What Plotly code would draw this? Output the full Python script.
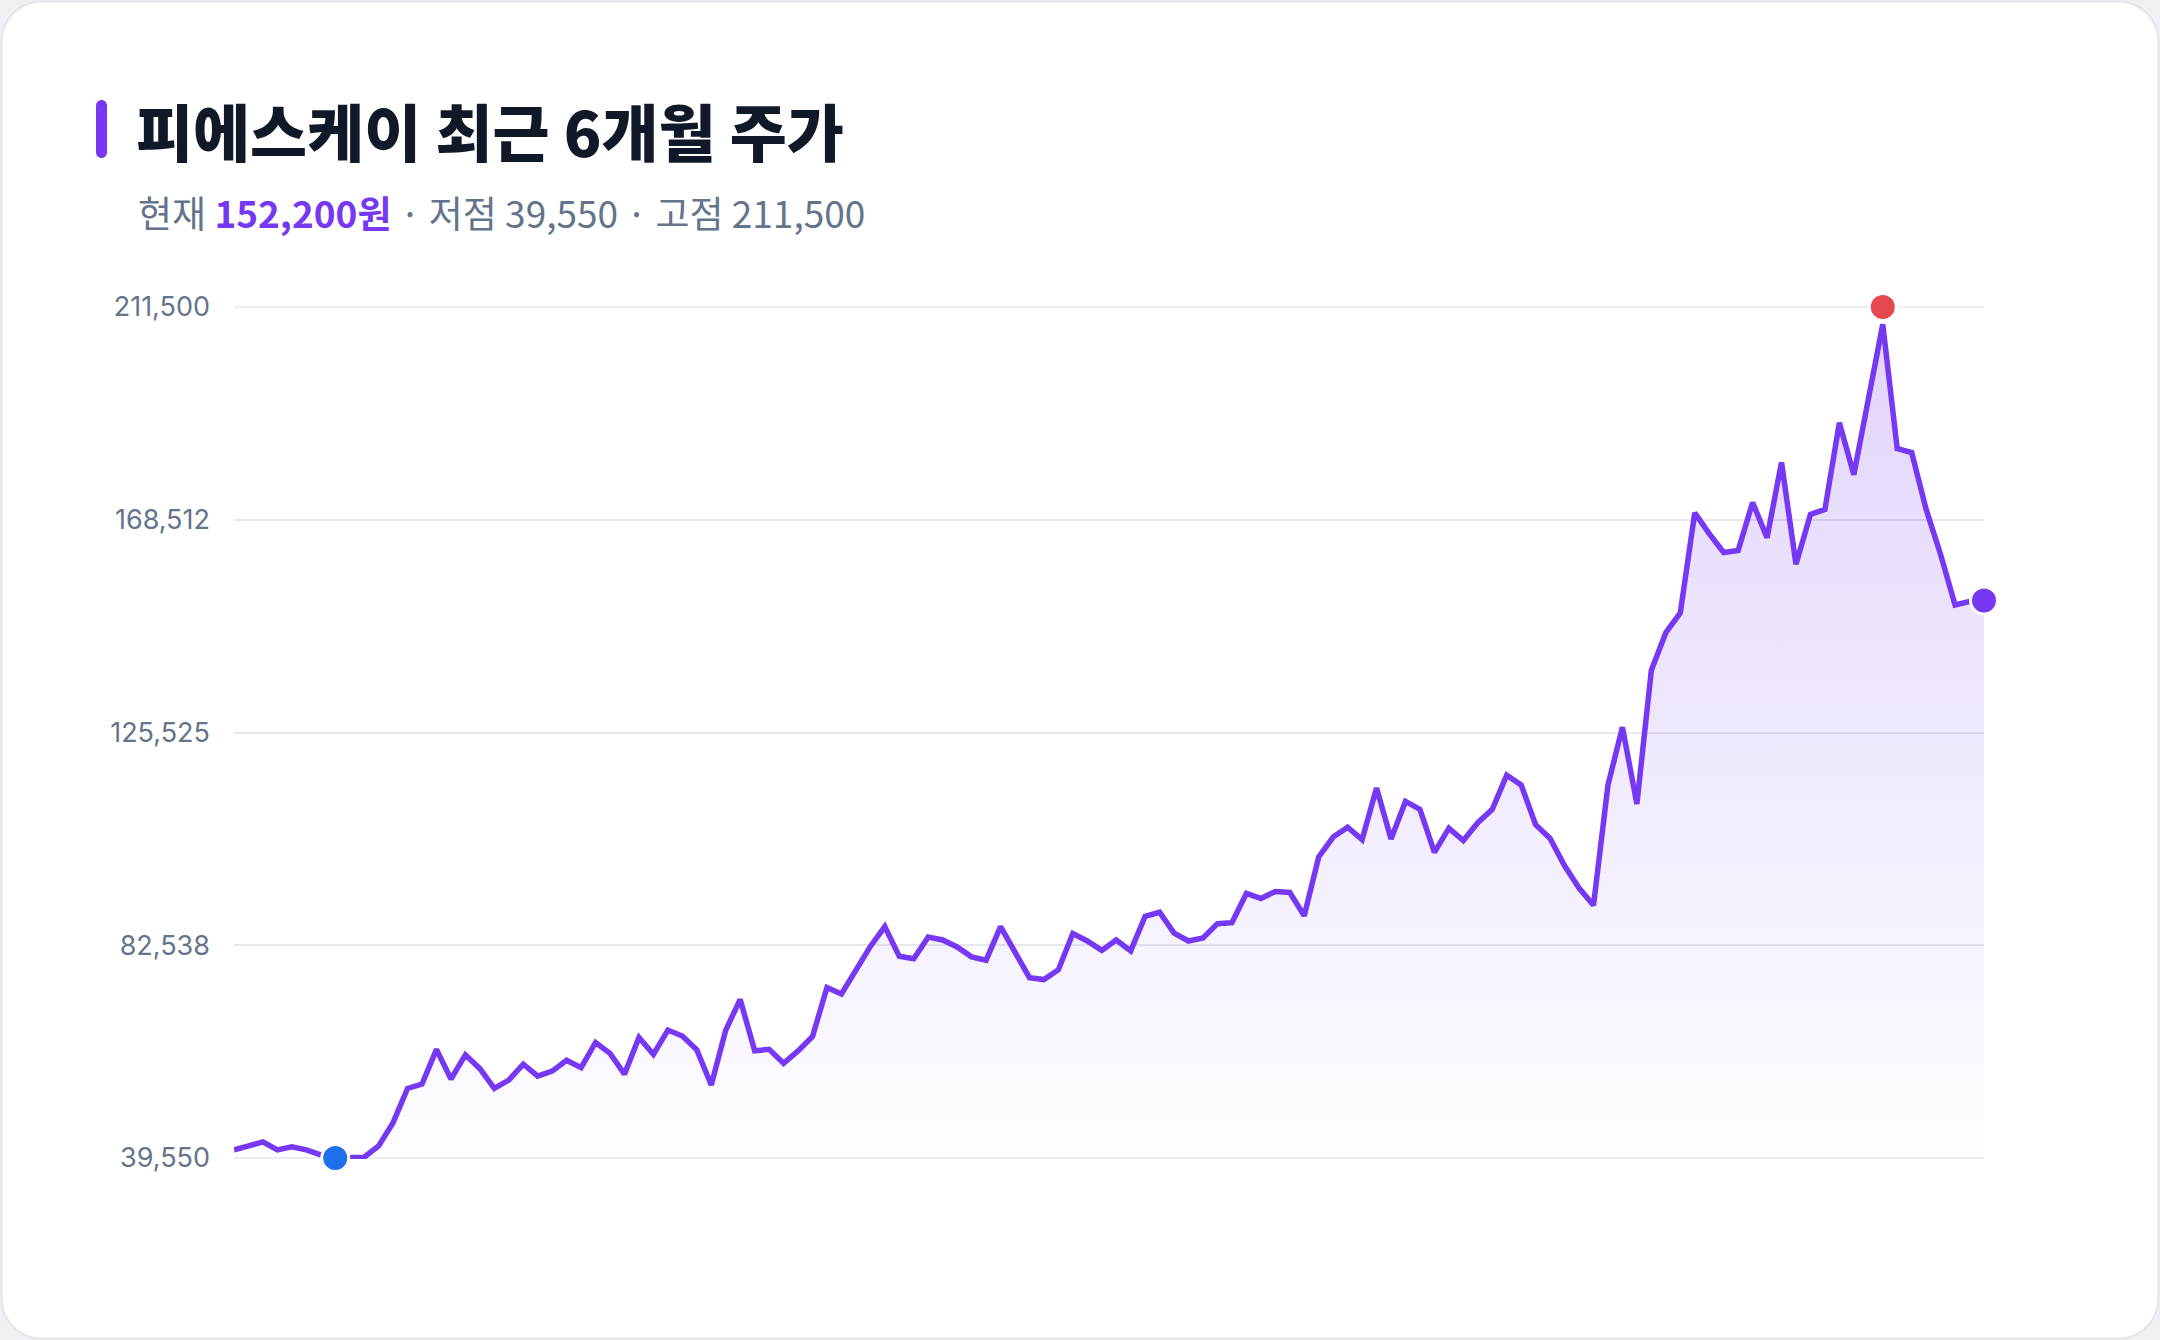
import plotly.graph_objects as go

# ---------------- data ----------------
title_text = "피에스케이 최근 6개월 주가"
day_index = list(range(122))
prices = [
    41200, 41900, 42800, 41200, 41800, 41200, 40200, 39550, 39700, 39700,
    42000, 46700, 53600, 54500, 61500, 55500, 60400, 57600, 53600, 55300,
    58500, 56100, 57100, 59300, 57800, 62900, 60700, 56500, 63900, 60500,
    65400, 64200, 61400, 54300, 65400, 71600, 61200, 61500, 58700, 61200,
    64100, 74000, 72700, 77300, 82300, 86300, 80300, 79800, 84200, 83600,
    82200, 80200, 79500, 86300, 81300, 76000, 75600, 77600, 84900, 83400,
    81500, 83600, 81400, 88400, 89200, 85000, 83400, 84000, 86900, 87100,
    93000, 92000, 93400, 93200, 88500, 100400, 104400, 106400, 103900, 114300,
    104000, 111600, 110000, 101300, 106200, 103700, 107300, 110000, 116900, 114900,
    106900, 104100, 98600, 94100, 90600, 114900, 126600, 111100, 138100, 145700,
    149700, 169900, 165700, 161900, 162300, 172000, 164900, 180100, 159500, 169600,
    170600, 188100, 177600, 193000, 208000, 182900, 182100, 170600, 161500, 151300,
    152000, 152200,
]
current_price = 152200
low_price = 39550
low_day = 7
high_price = 211500
high_day = 114
y_tickvals = [39550, 82537.5, 125525, 168512.5, 211500]
y_ticktext = ["39,550", "82,538", "125,525", "168,512", "211,500"]

# ---------------- style / layout ----------------
W, H = 2160, 1340
L, R, T, B = 234, 176, 306, 181
PW, PH = W - L - R, H - T - B
PURPLE = "#7638f2"
BLUE = "#1f6fec"
RED = "#e5484d"
TITLE_COLOR = "#111827"
MUTED = "#64748b"
GRID = "#e6e7eb"
PAD = 200  # tiny range padding so the edge gridlines stay visible


def px_x(px):
    return (px - L) / PW


def px_y(py):
    return (H - B - py) / PH


def rounded_rect(x0, y0, x1, y1, r):
    k = 0.5523 * r
    def P(x, y):
        return f"{px_x(x):.5f},{px_y(y):.5f}"
    pts = [
        f"M {P(x0 + r, y0)}",
        f"L {P(x1 - r, y0)}",
        f"C {P(x1 - r + k, y0)} {P(x1, y0 + r - k)} {P(x1, y0 + r)}",
        f"L {P(x1, y1 - r)}",
        f"C {P(x1, y1 - r + k)} {P(x1 - r + k, y1)} {P(x1 - r, y1)}",
        f"L {P(x0 + r, y1)}",
        f"C {P(x0 + r - k, y1)} {P(x0, y1 - r + k)} {P(x0, y1 - r)}",
        f"L {P(x0, y0 + r)}",
        f"C {P(x0, y0 + r - k)} {P(x0 + r - k, y0)} {P(x0 + r, y0)}",
        "Z",
    ]
    return " ".join(pts)


fig = go.Figure()

fig.add_trace(go.Scatter(
    x=day_index, y=prices, mode="lines",
    line=dict(color=PURPLE, width=5.5),
    fill="tozeroy",
    fillgradient=dict(
        type="vertical",
        colorscale=[[0, "rgba(124,58,237,0.01)"], [1, "rgba(124,58,237,0.22)"]],
        start=low_price, stop=high_price,
    ),
    hoverinfo="skip", showlegend=False,
))

for xv, yv, col in [(low_day, low_price, BLUE), (high_day, high_price, RED),
                    (day_index[-1], current_price, PURPLE)]:
    fig.add_trace(go.Scatter(
        x=[xv], y=[yv], mode="markers",
        marker=dict(size=27, color=col, line=dict(color="white", width=3)),
        cliponaxis=False, hoverinfo="skip", showlegend=False,
    ))

shapes = [
    dict(type="path", xref="paper", yref="paper", layer="below",
         path=rounded_rect(1.5, 1.5, W - 1.5, H - 1.5, 40),
         fillcolor="white", line=dict(color="#e4e5ea", width=2)),
    dict(type="path", xref="paper", yref="paper", layer="above",
         path=rounded_rect(96, 100, 107, 158, 5.5),
         fillcolor=PURPLE, line=dict(width=0)),
]
# gridlines at the two range ends (plotly skips grid lines on the plot edge)
for gv in (y_tickvals[0], y_tickvals[-1]):
    shapes.append(dict(type="line", xref="paper", yref="y", layer="below",
                       x0=0, x1=1, y0=gv, y1=gv, line=dict(color=GRID, width=1.5)))

subtitle = (f"<span style='color:{MUTED}'>현재 </span>"
            f"<b><span style='color:{PURPLE}'>{current_price:,}원</span></b>"
            f"<span style='color:{MUTED}'> · 저점 {low_price:,} · 고점 {high_price:,}</span>")

annotations = [
    dict(text=title_text, xref="paper", yref="paper",
         x=px_x(134), y=px_y(130), xanchor="left", yanchor="middle", showarrow=False,
         font=dict(family="Noto Sans CJK KR", size=62, weight=900, color=TITLE_COLOR)),
    dict(text=subtitle, xref="paper", yref="paper",
         x=px_x(136), y=px_y(212), xanchor="left", yanchor="middle", showarrow=False,
         font=dict(family="Noto Sans CJK KR", size=37, color=MUTED)),
]

fig.update_layout(
    width=W, height=H,
    margin=dict(l=L, r=R, t=T, b=B, pad=0),
    paper_bgcolor="#eff0f3",
    plot_bgcolor="rgba(0,0,0,0)",
    shapes=shapes,
    annotations=annotations,
    showlegend=False,
    xaxis=dict(range=[day_index[0], day_index[-1]], showgrid=False, zeroline=False,
               showticklabels=False, showline=False, ticks="", fixedrange=True),
    yaxis=dict(range=[low_price - PAD, high_price + PAD], tickmode="array",
               tickvals=y_tickvals, ticktext=y_ticktext,
               showgrid=True, gridcolor=GRID, gridwidth=1.5,
               zeroline=False, showline=False, ticks="",
               ticklabelstandoff=23, automargin=False,
               tickfont=dict(family="Inter", size=27, color=MUTED)),
)

fig.write_html("out.html")
